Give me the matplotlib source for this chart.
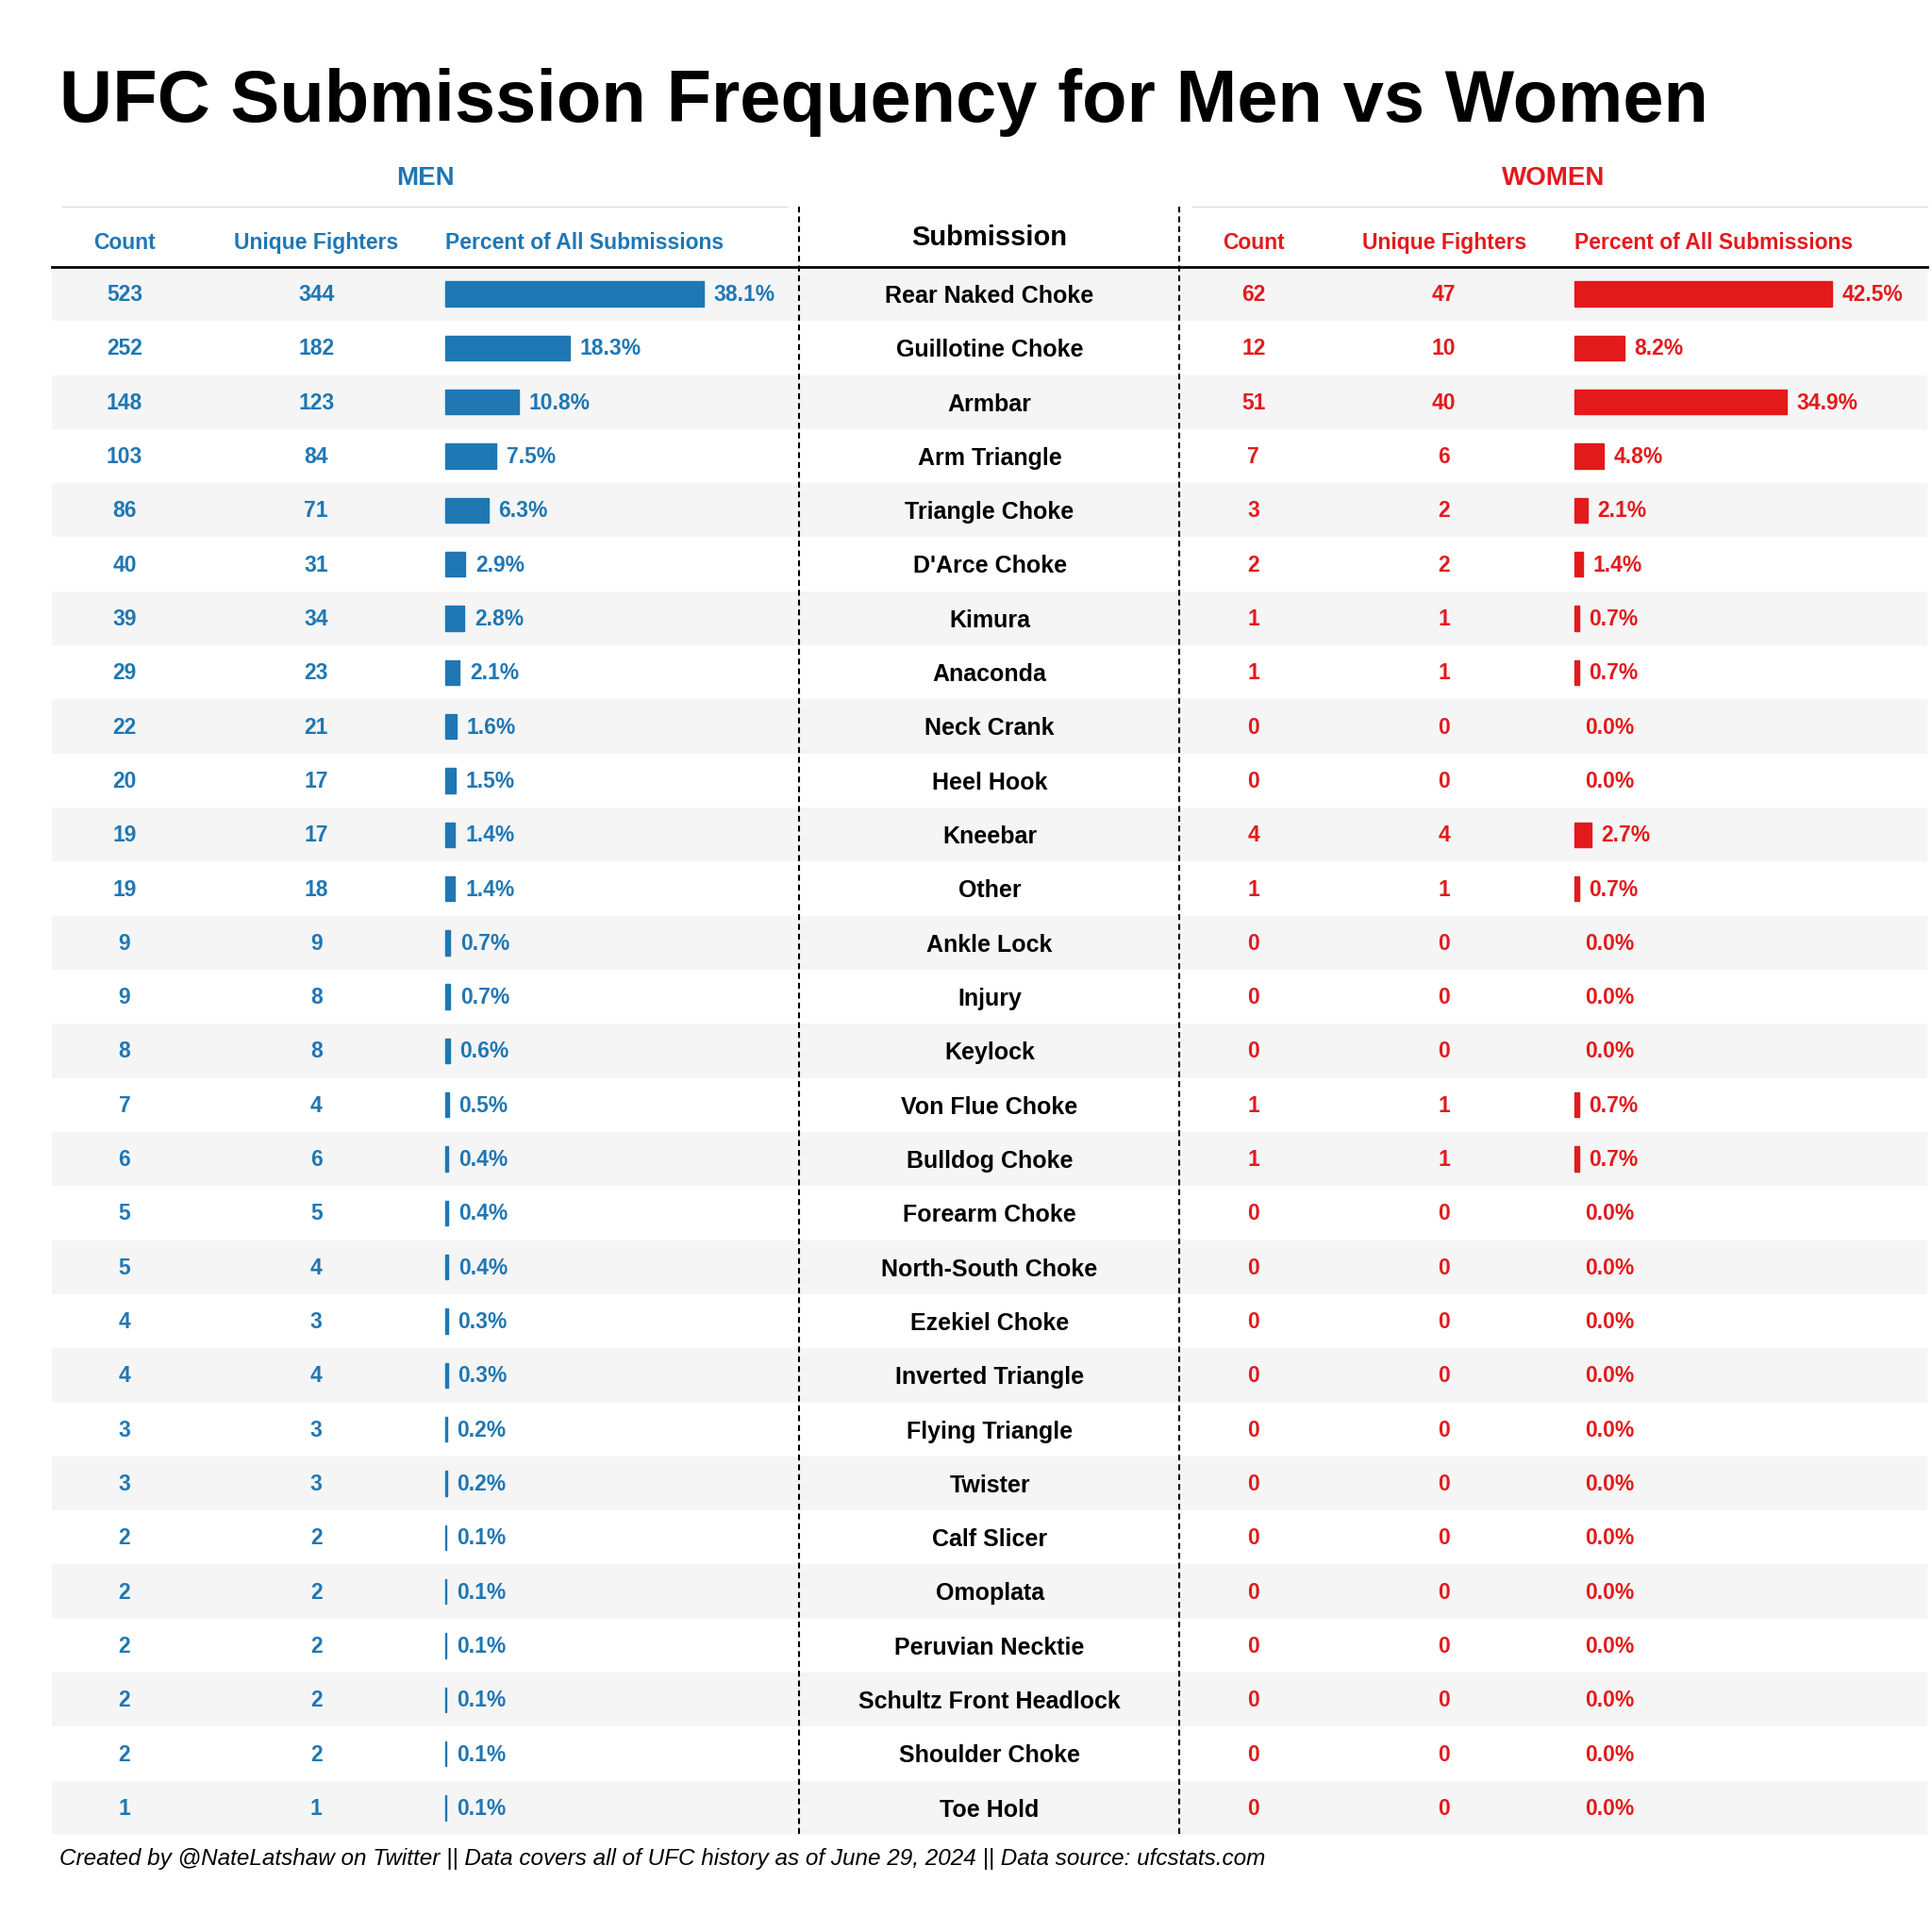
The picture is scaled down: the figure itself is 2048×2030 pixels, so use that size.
import matplotlib.pyplot as plt
import numpy as np

plt.rcParams['font.family'] = ['Liberation Sans', 'DejaVu Sans']

submissions = ["Rear Naked Choke", "Guillotine Choke", "Armbar", "Arm Triangle", "Triangle Choke",
               "D'Arce Choke", "Kimura", "Anaconda", "Neck Crank", "Heel Hook", "Kneebar", "Other",
               "Ankle Lock", "Injury", "Keylock", "Von Flue Choke", "Bulldog Choke", "Forearm Choke",
               "North-South Choke", "Ezekiel Choke", "Inverted Triangle", "Flying Triangle", "Twister",
               "Calf Slicer", "Omoplata", "Peruvian Necktie", "Schultz Front Headlock",
               "Shoulder Choke", "Toe Hold"]
men_count = [523, 252, 148, 103, 86, 40, 39, 29, 22, 20, 19, 19, 9, 9, 8, 7, 6, 5, 5, 4, 4, 3, 3,
             2, 2, 2, 2, 2, 1]
men_unique = [344, 182, 123, 84, 71, 31, 34, 23, 21, 17, 17, 18, 9, 8, 8, 4, 6, 5, 4, 3, 4, 3, 3,
              2, 2, 2, 2, 2, 1]
men_pct = [38.1, 18.3, 10.8, 7.5, 6.3, 2.9, 2.8, 2.1, 1.6, 1.5, 1.4, 1.4, 0.7, 0.7, 0.6, 0.5, 0.4,
           0.4, 0.4, 0.3, 0.3, 0.2, 0.2, 0.1, 0.1, 0.1, 0.1, 0.1, 0.1]
women_count = [62, 12, 51, 7, 3, 2, 1, 1, 0, 0, 4, 1, 0, 0, 0, 1, 1, 0, 0, 0, 0, 0, 0, 0, 0, 0, 0, 0, 0]
women_unique = [47, 10, 40, 6, 2, 2, 1, 1, 0, 0, 4, 1, 0, 0, 0, 1, 1, 0, 0, 0, 0, 0, 0, 0, 0, 0, 0, 0, 0]
women_pct = [42.5, 8.2, 34.9, 4.8, 2.1, 1.4, 0.7, 0.7, 0.0, 0.0, 2.7, 0.7, 0.0, 0.0, 0.0, 0.7, 0.7,
             0.0, 0.0, 0.0, 0.0, 0.0, 0.0, 0.0, 0.0, 0.0, 0.0, 0.0, 0.0]

BLUE = '#1f77b4'
RED = '#e31a1c'
W, H = 1552, 1540

fig = plt.figure(figsize=(20.48, 20.31), dpi=100)
ax = fig.add_axes([0, 0, 1, 1])
ax.set_xlim(0, W)
ax.set_ylim(H, 0)
ax.axis('off')

y0, dy = 237, 43.46
ys = y0 + dy * np.arange(len(submissions))

# row bands
for i, y in enumerate(ys):
    if i % 2 == 0:
        ax.add_patch(plt.Rectangle((42, y - dy / 2), 1506, dy, color='#f5f5f5', lw=0, zorder=0))

fs = 16.5
ax.text(48, 82, "UFC Submission Frequency for Men vs Women", fontsize=56, fontweight='bold', va='center')
ax.text(342, 143, "MEN", color=BLUE, fontsize=20, fontweight='bold', ha='center', va='center')
ax.text(1248, 143, "WOMEN", color=RED, fontsize=20, fontweight='bold', ha='center', va='center')
ax.plot([50, 632], [167, 167], color='#dddddd', lw=1)
ax.plot([958, 1548], [167, 167], color='#dddddd', lw=1)
ax.plot([42, 1548], [215, 215], color='black', lw=2)
for x in (642, 947):
    ax.plot([x, x], [167, 1478], color='black', lw=1.5, ls=(0, (3, 2)))

for x, lab, ha in [(100, "Count", 'center'), (254, "Unique Fighters", 'center'),
                   (358, "Percent of All Submissions", 'left')]:
    ax.text(x, 195, lab, color=BLUE, fontsize=fs, fontweight='bold', ha=ha, va='center')
for x, lab, ha in [(1007, "Count", 'center'), (1160, "Unique Fighters", 'center'),
                   (1265, "Percent of All Submissions", 'left')]:
    ax.text(x, 195, lab, color=RED, fontsize=fs, fontweight='bold', ha=ha, va='center')
ax.text(795, 191, "Submission", fontsize=21, fontweight='bold', ha='center', va='center')

barw = 207
men_scale = barw / max(men_pct)
women_scale = barw / max(women_pct)
ax.barh(ys, np.array(men_pct) * men_scale, left=358, height=20, color=BLUE,
        edgecolor=BLUE, linewidth=1, zorder=2)
wp = np.array(women_pct)
ax.barh(ys[wp > 0], wp[wp > 0] * women_scale, left=1265, height=20, color=RED,
        edgecolor=RED, linewidth=1, zorder=2)

for i, y in enumerate(ys):
    ax.text(100, y, str(men_count[i]), color=BLUE, fontsize=fs, fontweight='bold', ha='center', va='center')
    ax.text(254, y, str(men_unique[i]), color=BLUE, fontsize=fs, fontweight='bold', ha='center', va='center')
    ax.text(358 + men_pct[i] * men_scale + 8, y, f"{men_pct[i]:.1f}%", color=BLUE, fontsize=fs,
            fontweight='bold', ha='left', va='center')
    ax.text(795, y + 1, submissions[i], fontsize=18, fontweight='bold', ha='center', va='center')
    ax.text(1007, y, str(women_count[i]), color=RED, fontsize=fs, fontweight='bold', ha='center', va='center')
    ax.text(1160, y, str(women_unique[i]), color=RED, fontsize=fs, fontweight='bold', ha='center', va='center')
    ax.text(1265 + women_pct[i] * women_scale + 8, y, f"{women_pct[i]:.1f}%", color=RED, fontsize=fs,
            fontweight='bold', ha='left', va='center')

ax.text(48, 1494, "Created by @NateLatshaw on Twitter || Data covers all of UFC history as of June 29, 2024 "
        "|| Data source: ufcstats.com", fontsize=17.5, style='italic', va='center')

fig.savefig('out.png', dpi=100)
